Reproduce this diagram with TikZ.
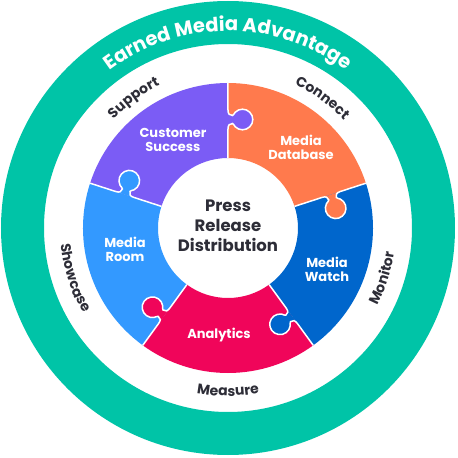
\documentclass[tikz,border=0pt]{standalone}
\usepackage{fontspec}
\setmainfont{Poppins}
\usetikzlibrary{decorations.text}
\definecolor{ringteal}{RGB}{0,196,167}
\definecolor{ink}{RGB}{45,45,55}
\definecolor{pieceorange}{RGB}{255,122,77}
\definecolor{piecepurple}{RGB}{123,92,245}
\definecolor{piecesky}{RGB}{51,153,255}
\definecolor{piecepink}{RGB}{240,5,90}
\definecolor{piecenavy}{RGB}{0,102,204}
\newcommand{\stagefont}{\bfseries\fontsize{14}{14}\selectfont}
\newcommand{\titlefont}{\bfseries\fontsize{19.5}{19.5}\selectfont}
\tikzset{
  knob/.style={insert path={.. controls (103,0) and (104.5,-1.5) .. (104.5,-4.5)
    .. controls (104.5,-5.5) and (102.2,-6.2) .. (101.22,-7.22)
    arc[start angle=135, end angle=405, radius=10.3]
    .. controls (114.8,-6.2) and (112.5,-5.5) .. (112.5,-4.5)
    .. controls (112.5,-1.5) and (114,0) .. (118,0)}},
  piecelabel/.style={text=white, font=\bfseries\fontsize{13}{14}\selectfont, align=center},
  hublabel/.style={text=ink, font=\bfseries\fontsize{16.5}{20}\selectfont, align=center}
}
\begin{document}
\begin{tikzpicture}[x=1pt,y=1pt]
	\useasboundingbox (-228,-230) rectangle (230,228);
	\fill[ringteal, even odd rule] (0,0) circle (227) (0,0) circle (184);
	% puzzle pieces
	\foreach \a/\col in {18/pieceorange, 90/piecepurple, 162/piecesky, 234/piecepink, 306/piecenavy}
		\fill[\col] (\a:70) -- (\a:145) arc[start angle=\a, end angle=\a+72, radius=145]
			-- (\a+72:70) arc[start angle=\a+72, end angle=\a, radius=70] -- cycle;
	% knobs and seams
	\foreach \a/\col in {18/pieceorange, 90/piecepurple, 162/piecesky, 234/piecepink, 306/piecenavy}{
		\begin{scope}[rotate=\a]
			\fill[\col] (99,0) [knob] -- cycle;
			\draw[white, line width=1.5pt] (70,0) -- (99,0) [knob] -- (145,0);
		\end{scope}
	}
	\node[hublabel] (hub) at (0,2) {Press\\Release\\Distribution};
	\node[piecelabel] (success) at (-55,88) {Customer\\Success};
	\node[piecelabel] (database) at (73,81) {Media\\Database};
	\node[piecelabel] (room) at (-103,-21) {Media\\Room};
	\node[piecelabel] (watch) at (99,-41) {Media\\Watch};
	\node[piecelabel] (analytics) at (-9,-107) {Analytics};
	% ring texts
	\path[decorate, decoration={text along path, text align=center, text color=white,
		text={|\titlefont|Earned Media Advantage}}] (150:197) arc[start angle=150, end angle=30, radius=197];
	\path[decorate, decoration={text along path, text align=center, text color=ink,
		text={|\stagefont|Support}}] (156:158) arc[start angle=156, end angle=96, radius=158];
	\path[decorate, decoration={text along path, text align=center, text color=ink,
		text={|\stagefont|Connect}}] (84:158) arc[start angle=84, end angle=24, radius=158];
	\path[decorate, decoration={text along path, text align=center, text color=ink,
		text={|\stagefont|Showcase}}] (168:168) arc[start angle=168, end angle=228, radius=168];
	\path[decorate, decoration={text along path, text align=center, text color=ink,
		text={|\stagefont|Measure}}] (240:168) arc[start angle=240, end angle=300, radius=168];
	\path[decorate, decoration={text along path, text align=center, text color=ink,
		text={|\stagefont|Monitor}}] (312:168) arc[start angle=312, end angle=372, radius=168];
\end{tikzpicture}
\end{document}
